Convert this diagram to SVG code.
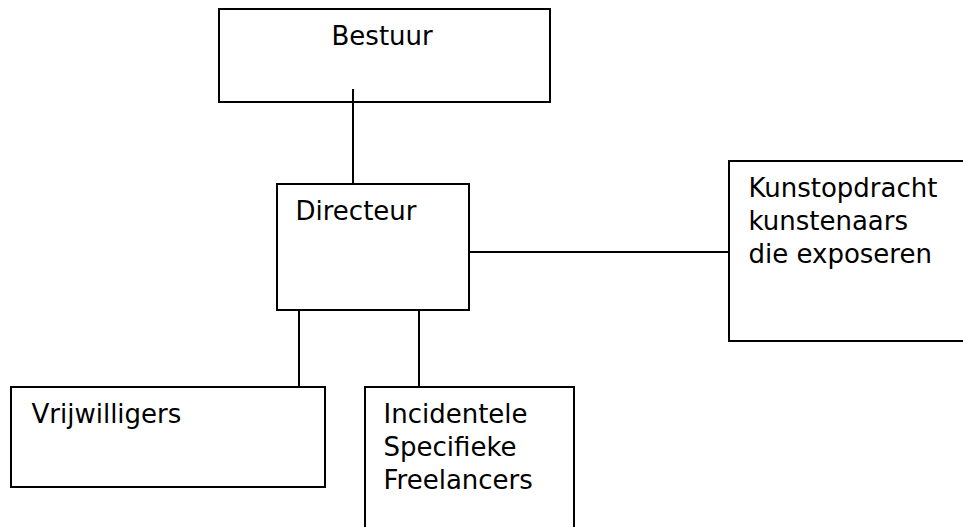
<svg xmlns="http://www.w3.org/2000/svg" width="963" height="527" viewBox="0 0 963 527">
<style>
.box{fill:#fff;stroke:#000;stroke-width:2}
.ln{fill:none;stroke:#000;stroke-width:2}
text{font-family:"DejaVu Sans","Verdana",sans-serif;font-size:26px;fill:#000}
</style>
<rect width="963" height="527" fill="#fff"/>
<g id="n-bestuur">
<rect class="box" x="219" y="9" width="331" height="93"/>
<text x="331.5" y="45">Bestuur</text>
</g>
<g id="n-directeur">
<rect class="box" x="277" y="184" width="192" height="126"/>
<text x="295.5" y="220">Directeur</text>
</g>
<g id="n-kunst">
<rect class="box" x="729" y="161" width="250" height="180"/>
<text x="748.5" y="197">Kunstopdracht</text>
<text x="748.5" y="230">kunstenaars</text>
<text x="748.5" y="263">die exposeren</text>
</g>
<g id="n-vrijwilligers">
<rect class="box" x="11" y="387" width="314" height="100"/>
<text x="31.5" y="423">Vrijwilligers</text>
</g>
<g id="n-freelancers">
<rect class="box" x="365" y="387" width="209" height="150"/>
<text x="383.5" y="423">Incidentele</text>
<text x="383.5" y="456">Specifieke</text>
<text x="383.5" y="489">Freelancers</text>
</g>
<g id="connectors">
<line class="ln" x1="353" y1="89" x2="353" y2="184"/>
<line class="ln" x1="469" y1="252" x2="729" y2="252"/>
<line class="ln" x1="299" y1="310" x2="299" y2="387"/>
<line class="ln" x1="419" y1="310" x2="419" y2="387"/>
</g>
</svg>
